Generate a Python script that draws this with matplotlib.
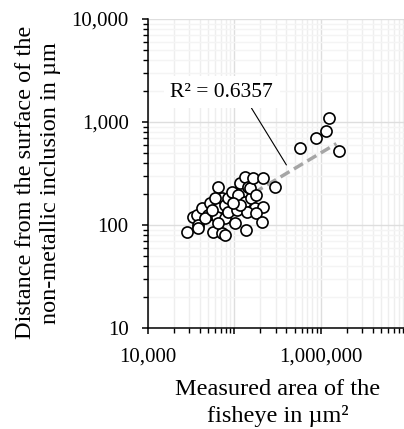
import numpy as np
import matplotlib
matplotlib.use("Agg")
import matplotlib.pyplot as plt
from matplotlib.ticker import LogLocator, FixedLocator, FuncFormatter, NullFormatter

# measured fisheye area (um^2) and inclusion depth (um)
area = [28000, 33400, 36600, 41800, 38200, 52100, 49800, 65000, 56900, 71100,
        77600, 71100, 65000, 62200, 77600, 84800, 92800, 77600, 65000, 84800,
        106000, 115800, 132200, 144400, 110600, 132200, 158000, 172600, 138400, 101400,
        135000, 151000, 165000, 215000, 180600, 215000, 180600, 209700, 294000, 115800,
        96900, 59500, 45600, 54500, 38200,
        582000, 891000, 1164000, 1247000, 1614000]
depth = [86, 120, 125, 147, 100, 162, 125, 235, 86, 83,
         80, 182, 145, 120, 156, 182, 211, 116, 104, 135,
         140, 254, 294, 235, 196, 168, 182, 145, 135, 104,
         90, 227, 284, 284, 196, 151, 130, 106, 235, 156,
         162, 182, 116, 140, 93,
         556, 695, 824, 1086, 523]

# power trend line y = a * x^b
trend_a = 0.50
trend_b = 0.50
trend_x = [28000, 1520000]
r2_text = "R² = 0.6357"

plt.rcParams['font.family'] = ['Liberation Serif', 'DejaVu Serif']

fig = plt.figure(figsize=(4.04, 4.29), dpi=100)
ax = fig.add_axes([148 / 404, 1 - 328 / 429, 259 / 404, 309 / 429])

tx = np.array(trend_x, dtype=float)
ax.plot(tx, trend_a * tx ** trend_b, color='#a6a6a6', lw=2.5,
        ls=(0, (3.0, 1.5)), zorder=2, solid_capstyle='butt')
ax.scatter(area, depth, s=64, facecolor='white', edgecolor='black',
           linewidth=1.2, zorder=3)

ax.set_xscale('log')
ax.set_yscale('log')
ax.set_xlim(1e4, 1e7)
ax.set_ylim(10, 1e4)

ax.xaxis.set_major_locator(FixedLocator([1e4, 1e5, 1e6, 1e7]))
ax.xaxis.set_major_formatter(FuncFormatter(
    lambda v, p: f"{int(round(v)):,}" if v in (1e4, 1e6) else ""))
ax.xaxis.set_minor_locator(LogLocator(base=10, subs=np.arange(2, 10)))
ax.xaxis.set_minor_formatter(NullFormatter())
ax.yaxis.set_major_locator(FixedLocator([10, 100, 1000, 10000]))
ax.yaxis.set_major_formatter(FuncFormatter(lambda v, p: f"{int(round(v)):,}"))
ax.yaxis.set_minor_locator(LogLocator(base=10, subs=np.arange(2, 10)))
ax.yaxis.set_minor_formatter(NullFormatter())

ax.grid(which='major', color='#dedede', lw=1.0, zorder=0)
ax.grid(axis='x', which='minor', color='#eeeeee', lw=1.0, zorder=0)
ax.grid(axis='y', which='minor', color='#f4f4f4', lw=1.0, zorder=0)
ax.set_axisbelow(True)

for s in ('top', 'right'):
    ax.spines[s].set_visible(False)
for s in ('left', 'bottom'):
    ax.spines[s].set_linewidth(1.1)
    ax.spines[s].set_color('black')

ax.tick_params(which='major', direction='out', length=4, width=1.1, labelsize=15)
ax.tick_params(which='minor', direction='out', length=3.5, width=1.0)
ax.tick_params(axis='x', which='major', pad=10)
ax.tick_params(axis='y', which='major', pad=10)

ax.set_xlabel("Measured area of the\nfisheye in µm²", fontsize=17.5, labelpad=9,
              linespacing=1.3)
ax.set_ylabel("Distance from the surface of the\nnon-metallic inclusion in µm",
              fontsize=17.5, labelpad=9, linespacing=1.25)
ax.yaxis.set_label_coords(-0.335, 0.47)

ax.annotate(r2_text, xy=(401000, 383), xytext=(71600, 1950),
            fontsize=15.5, ha='center', va='center',
            bbox=dict(boxstyle='square,pad=0.3', fc='white', ec='none'),
            arrowprops=dict(arrowstyle='-', color='black', lw=0.8,
                            shrinkA=0, shrinkB=0, relpos=(0.75, 0.0)),
            zorder=4)

fig.savefig('out.png', dpi=100)
